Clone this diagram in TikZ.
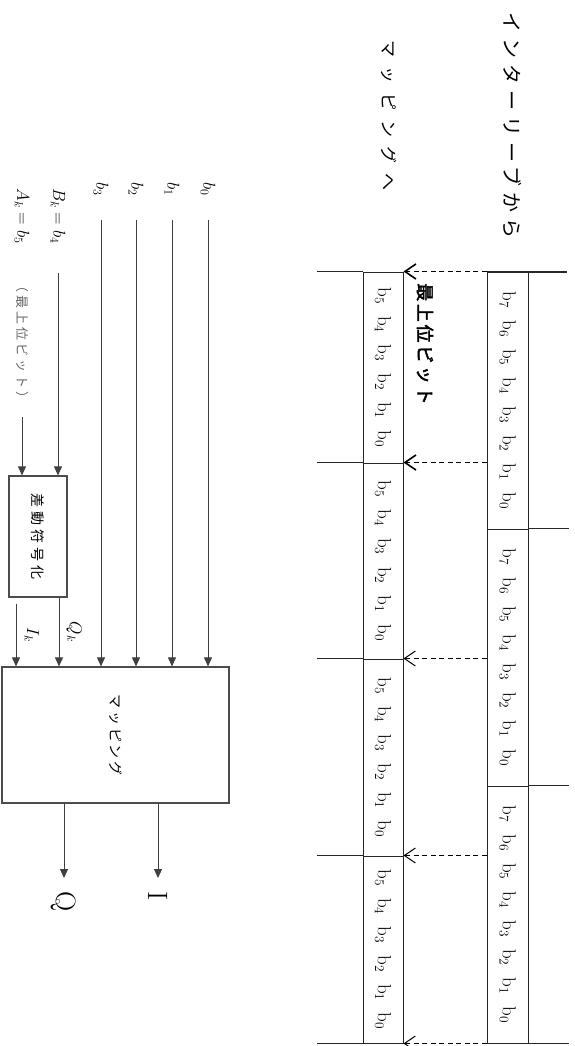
\documentclass[tikz,border=0pt]{standalone}
\usepackage{fontspec}
\usepackage{graphicx}
\newfontfamily\jpfont{Noto Sans CJK JP}
\newfontfamily\jpbold[FakeBold=2.5]{Noto Sans CJK JP}
\usetikzlibrary{positioning,arrows.meta}

\newcommand{\setsz}[1]{\fontsize{#1}{#1}\selectfont}
\newcommand{\downtext}[1]{\rotatebox{-90}{#1}}
\newcommand{\bitb}[1]{b\textsubscript{#1}}
\newcommand{\bgap}{\hspace{12pt}}
\newcommand{\eightbits}{\bitb{7}\bgap\bitb{6}\bgap\bitb{5}\bgap\bitb{4}\bgap\bitb{3}\bgap\bitb{2}\bgap\bitb{1}\bgap\bitb{0}}
\newcommand{\sixbits}{\bitb{5}\bgap\bitb{4}\bgap\bitb{3}\bgap\bitb{2}\bgap\bitb{1}\bgap\bitb{0}}

\begin{document}
\begin{tikzpicture}[
    x=1pt, y=-1pt,
    % Styles
    cell/.style={
        draw=black!85, line width=1pt, inner sep=0pt,
        minimum width=#1, font=\setsz{19},
    },
    cell/.default={41pt},
    sep/.style={draw=black!85, line width=1pt},
    block/.style={draw=black!70, line width=1.2pt, inner sep=0pt},
    arr/.style={-{Triangle[length=9pt,width=8pt]}, line width=0.9pt, draw=black!75},
    dasharr/.style={-{Straight Barb[length=11pt,width=15pt]},
        dash pattern=on 5pt off 3.5pt, line width=#1},
    dasharr/.default={1.6pt},
    lbl/.style={inner sep=1pt, font=\setsz{18}},
    jlbl/.style={inner sep=0pt, anchor=north},
]
\useasboundingbox (0,0) rectangle (575,1046);

% ================================================================
% TOP LABELS
% ================================================================
\node[jlbl] (fromilv) at (512,12)
    {\downtext{\jpfont\setsz{20}\addfontfeatures{LetterSpace=30}インターリーブから}};
\node[jlbl] (tomap) at (389,40)
    {\downtext{\jpfont\setsz{17}\addfontfeatures{LetterSpace=57}マッピングへ}};

% ================================================================
% INTERLEAVER OUTPUT (8 bits) / MAPPING INPUT (6 bits)
% ================================================================
\node[cell, minimum height=257pt] (ilv1) at (507.5,400.5) {\downtext{\eightbits}};
\node[cell, minimum height=257pt] (ilv2) at (507.5,657.5) {\downtext{\eightbits}};
\node[cell, minimum height=257pt] (ilv3) at (507.5,914.5) {\downtext{\eightbits}};

\node[cell=40pt, minimum height=191pt] (sym1) at (383,367.5) {\downtext{\sixbits}};
\node[cell=40pt, minimum height=196pt] (sym2) at (383,561) {\downtext{\sixbits}};
\node[cell=40pt, minimum height=197pt] (sym3) at (383,757.5) {\downtext{\sixbits}};
\node[cell=40pt, minimum height=187pt] (sym4) at (383,949.5) {\downtext{\sixbits}};

% separators running out of the columns
\draw[sep, line width=2pt] (ilv1.north west) -- ++(80,0);
\draw[sep] (ilv2.north east) -- ++(40,0);
\draw[sep] (ilv3.north east) -- ++(40,0);
\draw[sep] (ilv3.south east) -- ++(40,0);

\draw[sep] (sym1.north west) -- ++(-46,0);
\draw[sep] (sym2.north west) -- ++(-46,0);
\draw[sep] (sym3.north west) -- ++(-46,0);
\draw[sep] (sym4.north west) -- ++(-46,0);
\draw[sep] (sym4.south west) -- ++(-46,0);

% symbol boundaries
\draw[dasharr] (ilv1.north west) -- (sym1.north east);
\draw[dasharr] (ilv1.west |- sym2.north) -- (sym2.north east);
\draw[dasharr=1pt] (ilv2.west |- sym3.north) -- (sym3.north east);
\draw[dasharr=1pt] (ilv3.west |- sym4.north) -- (sym4.north east);
\draw[dasharr=1pt] (ilv3.south west) -- (sym4.south east);

\node[jlbl] (msbnote) at (425,283)
    {\downtext{\jpbold\setsz{18}\addfontfeatures{LetterSpace=15}最上位ビット}};

% ================================================================
% DIFFERENTIAL ENCODING + MAPPING
% ================================================================
\node[lbl, anchor=south] (inb0) at (208,197) {\downtext{$b_0$}};
\node[lbl, anchor=south] (inb1) at (172,197) {\downtext{$b_1$}};
\node[lbl, anchor=south] (inb2) at (136,197) {\downtext{$b_2$}};
\node[lbl, anchor=south] (inb3) at (101,197) {\downtext{$b_3$}};
\node[lbl, anchor=south] (inbk) at (58,245) {\downtext{$B_k = b_4$}};
\node[lbl, anchor=south] (inak) at (22,245) {\downtext{$A_k = b_5$}};
\node[jlbl, anchor=south, text=black!60] (msbpar) at (22,405)
    {\downtext{\jpfont\setsz{13}\addfontfeatures{LetterSpace=23}（最上位ビット）}};

\node[block, minimum width=58pt, minimum height=121pt] (diffenc) at (38,536.5)
    {\downtext{\jpfont\setsz{14}\addfontfeatures{LetterSpace=28}差動符号化}};
\node[block, minimum width=227pt, minimum height=136pt] (mapper) at (115.5,735)
    {\downtext{\jpfont\setsz{14}\addfontfeatures{LetterSpace=18}マッピング}};

\node[lbl, font=\setsz{28}, anchor=north] (outq) at (64,890) {\downtext{Q}};
\node[lbl, font=\setsz{28}, anchor=north] (outi) at (158,890) {\downtext{I}};

% bits straight into the mapper
\draw[arr, shorten <=23pt] (inb0.south) -- (inb0.south |- mapper.north);
\draw[arr, shorten <=23pt] (inb1.south) -- (inb1.south |- mapper.north);
\draw[arr, shorten <=23pt] (inb2.south) -- (inb2.south |- mapper.north);
\draw[arr, shorten <=23pt] (inb3.south) -- (inb3.south |- mapper.north);

% two upper bits through the differential encoder
\draw[arr, shorten <=28pt] (inbk.south) -- (inbk.south |- diffenc.north);
\draw[arr, shorten <=12pt] (msbpar.south) -- (msbpar.south |- diffenc.north);

\coordinate (ikout) at ([xshift=-22pt, yshift=-6pt]diffenc.south);
\coordinate (qkout) at ([xshift=21pt]diffenc.south);
\draw[arr] (ikout) -- (ikout |- mapper.north)
    node[lbl, midway, right=7pt] {\downtext{$I_k$}};
\draw[arr] (qkout) -- (qkout |- mapper.north)
    node[lbl, midway, right=6pt] {\downtext{$Q_k$}};

% mapper outputs
\draw[arr, shorten >=12pt] (mapper.south -| outq.north) -- (outq.north);
\draw[arr, shorten >=12pt] (mapper.south -| outi.north) -- (outi.north);

\end{tikzpicture}
\end{document}
